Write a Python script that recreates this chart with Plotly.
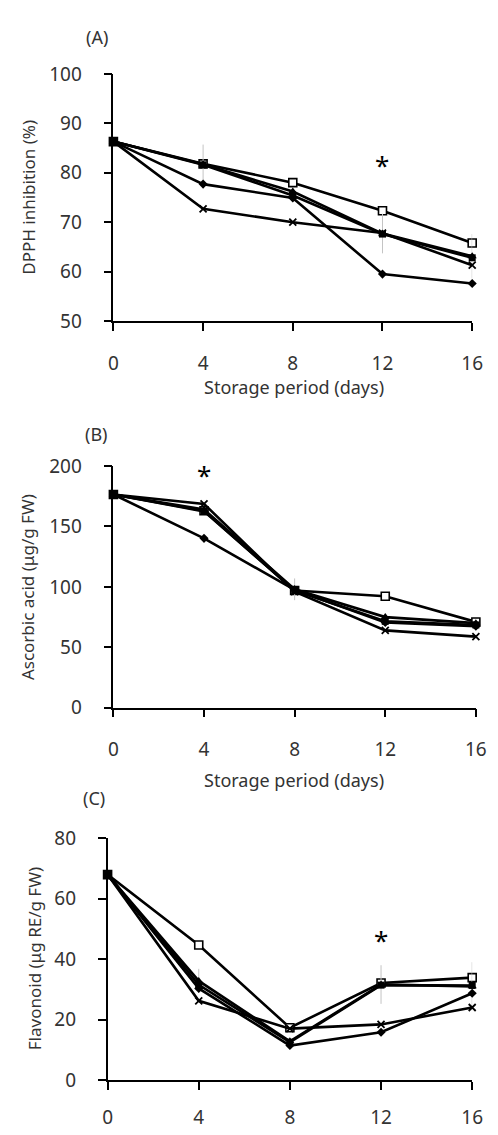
import plotly.graph_objects as go

days = [0, 4, 8, 12, 16]

# Panel A: DPPH inhibition (%)
dpph_diamond = [86.3, 77.7, 74.9, 59.5, 57.6]
dpph_fsquare = [86.3, 81.6, 75.4, 67.6, 62.8]
dpph_triangle = [86.3, 81.7, 76.2, 67.7, 63.1]
dpph_cross = [86.3, 72.7, 70.0, 67.8, 61.3]
dpph_osquare = [86.3, 81.8, 78.0, 72.3, 65.8]
dpph_err = [0, 4.0, 0, 4.0, 4.5]

# Panel B: Ascorbic acid (µg/g FW)
asc_diamond = [176.5, 140.2, 97.5, 70.5, 67.5]
asc_fsquare = [176.5, 162.5, 97.0, 71.5, 68.5]
asc_triangle = [176.5, 164.0, 98.0, 75.0, 70.0]
asc_cross = [176.5, 168.7, 96.0, 64.0, 58.8]
asc_osquare = [176.5, 163.0, 97.0, 92.2, 71.0]
asc_err = [0, 0, 9.0, 0, 0]

# Panel C: Flavonoid (µg RE/g FW)
fla_diamond = [68.0, 30.3, 11.4, 15.8, 28.7]
fla_fsquare = [68.0, 31.5, 12.5, 31.4, 31.3]
fla_triangle = [68.0, 32.8, 12.8, 31.6, 31.0]
fla_cross = [68.0, 26.2, 17.0, 18.4, 24.0]
fla_osquare = [68.0, 44.7, 17.3, 32.1, 33.9]
fla_err = [0, 4.0, 0, 6.4, 8.0]

panel_labels = ["(A)", "(B)", "(C)"]
y_titles = ["DPPH inhibition (%)", "Ascorbic acid (μg/g FW)", "Flavonoid (μg RE/g FW)"]
x_title = "Storage period (days)"
y_ranges = [[50, 100], [0, 200], [0, 80]]
y_dticks = [10, 50, 20]
star_pos = [(12, 81.5), (4, 193.0), (12, 46.5)]

W, H = 498, 1135

# plot-area pixel boxes (left, right, top, bottom)
boxes = [(112, 482.7, 62.3, 315.3), (112, 486.5, 463.7, 711.0), (106, 482.7, 844.7, 1092.0)]

FONT = "Noto Sans"
TXT = "#333333"

fig = go.Figure()

# drawing order: open square, triangle, diamond, filled square, cross
order = [
    ("osquare", "square", "white", 8, 1.6),
    ("triangle", "triangle-up", "black", 8, 0),
    ("diamond", "diamond", "black", 7, 0),
    ("fsquare", "square", "black", 7, 0),
    ("cross", "x-thin-open", "black", 7, 1.8),
]

panels = [
    dict(diamond=dpph_diamond, fsquare=dpph_fsquare, triangle=dpph_triangle,
         cross=dpph_cross, osquare=dpph_osquare, err=dpph_err),
    dict(diamond=asc_diamond, fsquare=asc_fsquare, triangle=asc_triangle,
         cross=asc_cross, osquare=asc_osquare, err=asc_err),
    dict(diamond=fla_diamond, fsquare=fla_fsquare, triangle=fla_triangle,
         cross=fla_cross, osquare=fla_osquare, err=fla_err),
]

for p, pdata in enumerate(panels):
    xa = "x" if p == 0 else f"x{p+1}"
    ya = "y" if p == 0 else f"y{p+1}"
    for key, sym, col, size, lw in order:
        if sym == "x-thin-open":
            mk = dict(symbol=sym, size=size, color="black", line=dict(color="black", width=lw))
        else:
            mk = dict(symbol=sym, size=size, color=col, line=dict(color="black", width=lw))
        tr = go.Scatter(x=days, y=pdata[key], mode="lines+markers", xaxis=xa, yaxis=ya,
                        line=dict(color="black", width=2.6), marker=mk,
                        cliponaxis=False, showlegend=False)
        if key == "triangle":
            tr.error_y = dict(type="data", array=pdata["err"], color="#c4c4c4", thickness=1, width=0)
        fig.add_trace(tr)

layout = dict(width=W, height=H, margin=dict(l=0, r=0, t=0, b=0),
              paper_bgcolor="white", plot_bgcolor="white", showlegend=False,
              font=dict(family=FONT, color=TXT, size=18))

annotations = []
for p in range(3):
    l, r, t, b = boxes[p]
    xkey = "xaxis" if p == 0 else f"xaxis{p+1}"
    ykey = "yaxis" if p == 0 else f"yaxis{p+1}"
    xa = "x" if p == 0 else f"x{p+1}"
    ya = "y" if p == 0 else f"y{p+1}"
    layout[xkey] = dict(domain=[l / W, r / W], anchor=ya, range=[0, 16],
                        tickvals=days, ticktext=[str(d) for d in days],
                        showline=True, linecolor="black", linewidth=1.5,
                        ticks="outside", ticklen=8, tickwidth=1.5, tickcolor="black",
                        showgrid=False, zeroline=False,
                        ticklabelstandoff=16 if p < 2 else 11,
                        tickfont=dict(size=19, color=TXT, family=FONT))
    layout[ykey] = dict(domain=[1 - b / H, 1 - t / H], anchor=xa, range=y_ranges[p],
                        dtick=y_dticks[p], tick0=y_ranges[p][0],
                        showline=True, linecolor="black", linewidth=1.5,
                        ticks="outside", ticklen=8, tickwidth=1.5, tickcolor="black",
                        showgrid=False, zeroline=False, ticklabelstandoff=18,
                        tickfont=dict(size=19, color=TXT, family=FONT))
    # y title
    annotations.append(dict(text=y_titles[p], xref="paper", yref="paper",
                            x=(24 if p < 2 else 30) / W, y=1 - (t + b) / 2 / H,
                            textangle=-90, showarrow=False,
                            font=dict(size=17, color=TXT, family=FONT),
                            xanchor="center", yanchor="middle"))
    # panel label
    lab_y = [25, 431, 803][p]
    lab_x = [95, 95, 92][p]
    annotations.append(dict(text=panel_labels[p], xref="paper", yref="paper",
                            x=lab_x / W, y=1 - lab_y / H, showarrow=False,
                            font=dict(size=18, color=TXT, family=FONT),
                            xanchor="center", yanchor="middle"))
    # star
    annotations.append(dict(text="*", x=star_pos[p][0], y=star_pos[p][1], xref=xa, yref=ya,
                            showarrow=False, font=dict(size=26, color="black", family=FONT),
                            xanchor="center", yanchor="middle"))

# x titles for panels A and B
for ty in [383, 785]:
    annotations.append(dict(text=x_title, xref="paper", yref="paper",
                            x=299 / W, y=1 - ty / H, showarrow=False,
                            font=dict(size=18, color=TXT, family=FONT),
                            xanchor="center", yanchor="middle"))

layout["annotations"] = annotations
fig.update_layout(**layout)

# remove the default page margin so the figure fills the window exactly
page_fix = ("document.documentElement.style.margin='0';"
            "document.body.style.margin='0';"
            "document.documentElement.style.overflow='hidden';"
            "document.body.style.overflow='hidden';")
fig.write_html("out.html", post_script=page_fix, config={"displayModeBar": False})
